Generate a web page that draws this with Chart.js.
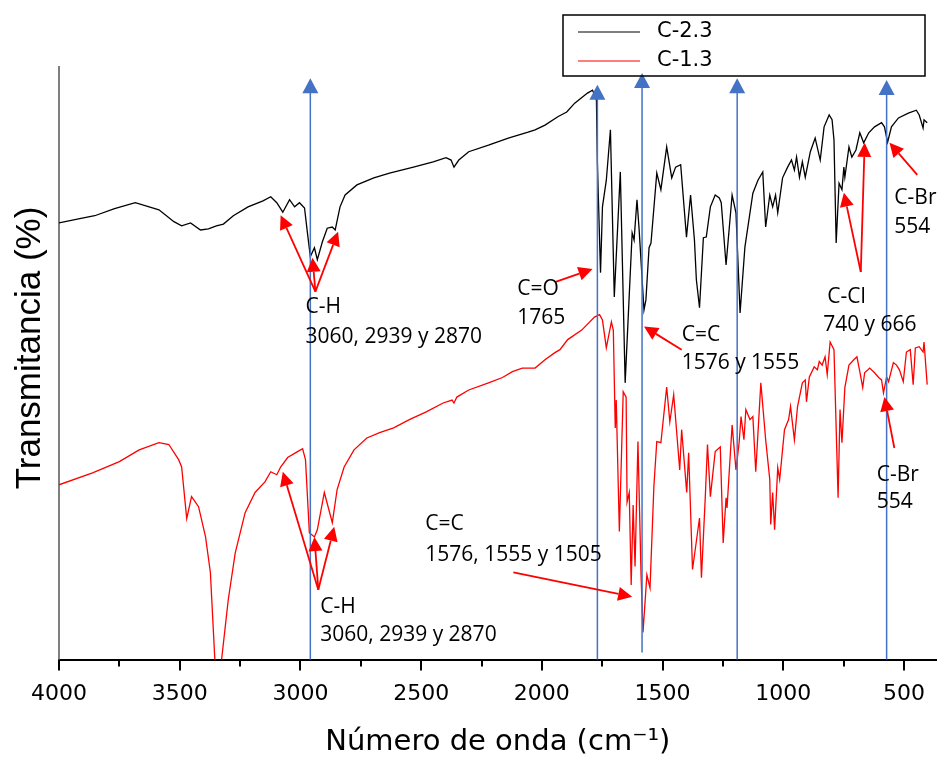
<!DOCTYPE html>
<html lang="es">
  <head>
    <meta charset="utf-8" />
    <title>FTIR C-2.3 / C-1.3</title>
    <style>
      body { margin: 0; background: #fff; }
      #wrap { width: 946px; height: 757px; }
    </style>
  </head>
  <body>
    <div id="wrap">
      <canvas id="canvas"></canvas>
    </div>

    <script src="https://cdn.jsdelivr.net/npm/chart.js"></script>

    <script>
      // spectra (wavenumber cm-1, transmittance in arbitrary %)
      const seriesNames = ["C-2.3", "C-1.3"];

      const waveC23 = [4000,3914,3852,3770,3684,3586,3524,3492,3455,3414,3381,3348,3319,3278,3217,3155,3123,3098,3073,3045,3024,3004,2983,2971,2959,2942,2930,2909,2889,2868,2856,2836,2815,2766,2696,2631,2532,2450,2397,2376,2364,2344,2303,2221,2139,2057,2028,1987,1934,1897,1864,1811,1790,1774,1770,1757,1749,1733,1716,1700,1675,1655,1626,1618,1606,1597,1577,1569,1556,1548,1524,1507,1483,1462,1446,1425,1401,1384,1368,1360,1347,1331,1319,1302,1282,1265,1257,1237,1212,1196,1179,1159,1126,1105,1085,1073,1056,1044,1032,1023,1003,982,966,954,945,933,921,909,888,868,847,831,810,798,790,781,769,757,749,745,728,716,699,683,667,646,622,593,581,568,552,523,482,449,437,421,417,404];
      const transC23 = [73.7,74.4,74.9,76.1,77.1,75.9,73.9,73.2,73.7,72.5,72.7,73.2,73.5,74.9,76.4,77.4,78.1,77.1,75.5,77.6,76.4,77.1,76.2,72.0,68.0,69.5,67.5,70.5,72.8,73.0,72.5,76.4,78.4,80.1,81.3,82.1,83.1,84.0,84.7,84.3,83.1,84.3,85.7,86.8,88.0,89.0,89.4,90.2,91.6,92.4,93.9,95.6,96.1,94.4,83.8,65.3,76.4,80.9,89.4,61.2,82.3,46.7,72.0,70.8,77.6,72.5,59.0,60.7,69.5,70.3,82.1,79.3,86.5,81.3,83.1,83.5,71.3,78.4,70.8,64.1,59.4,71.2,71.3,76.4,78.4,77.9,77.1,66.6,78.4,75.4,58.5,69.6,78.7,80.9,82.3,73.0,78.4,76.4,78.4,75.4,81.3,83.1,84.3,82.6,84.8,81.4,84.0,81.4,85.7,88.0,84.3,89.9,91.9,91.1,87.7,70.3,80.4,79.3,83.1,81.4,86.5,84.8,86.0,88.9,87.2,88.9,89.9,90.6,89.9,87.3,89.9,91.4,92.2,92.7,91.9,89.7,91.1,90.6];

      const waveC13 = [4000,3861,3750,3668,3586,3545,3504,3492,3471,3451,3422,3393,3373,3352,3332,3299,3270,3229,3188,3147,3123,3098,3082,3053,3012,2991,2979,2963,2942,2930,2901,2868,2848,2819,2778,2725,2672,2614,2549,2479,2409,2372,2364,2352,2303,2221,2163,2122,2081,2028,1987,1946,1925,1893,1835,1782,1761,1749,1733,1712,1704,1696,1692,1679,1663,1651,1647,1638,1630,1622,1614,1602,1589,1581,1565,1552,1536,1524,1507,1483,1470,1454,1429,1421,1400,1392,1376,1347,1339,1323,1314,1302,1282,1261,1249,1237,1233,1212,1196,1183,1175,1163,1155,1138,1126,1114,1093,1073,1056,1052,1044,1036,1023,1015,995,978,970,954,941,921,909,904,892,872,859,851,839,827,818,806,790,773,765,757,745,728,708,695,683,671,663,642,622,605,593,585,572,564,544,531,519,503,490,474,462,453,437,421,417,404];
      const transC13 = [29.5,31.5,33.4,35.4,36.6,36.3,33.7,32.5,23.8,27.5,25.8,20.7,14.7,-2,-2,10.1,18.0,24.8,28.2,30.0,31.7,31.2,32.5,34.1,35.1,35.6,33.7,21.4,20.7,21.9,28.2,23.1,28.7,32.5,35.4,37.4,38.3,39.1,40.5,41.8,43.3,43.8,43.3,44.3,45.5,46.7,47.6,48.6,49.2,49.2,50.6,51.8,52.3,54.0,55.6,57.8,58.2,57.3,52.6,57.0,55.6,39.1,43.8,21.6,45.2,44.3,26.6,28.2,12.6,26.1,15.7,36.8,14.0,4.6,14.3,12.1,29.2,36.8,36.6,46.0,40.1,44.7,32.0,38.8,28.2,34.9,15.2,23.9,13.8,27.5,36.3,27.5,35.1,35.9,19.7,27.3,25.6,39.6,32.0,36.6,41.0,37.1,42.2,40.5,41.0,31.7,46.7,37.1,30.4,22.8,28.2,21.9,32.4,30.4,38.8,40.5,42.7,37.1,42.7,46.7,47.2,43.5,47.7,49.4,48.9,50.3,49.7,51.1,48.1,53.6,52.3,27.3,42.2,36.6,45.9,49.7,50.6,51.1,48.6,45.9,48.4,49.2,48.4,47.6,47.2,45.0,47.7,46.9,50.1,49.7,48.9,46.9,51.9,52.3,46.4,52.6,52.8,51.9,53.6,46.4];

      // band markers (cm-1) with the top / bottom of each blue line
      const bandWaves = [2959, 1770, 1585, 1191, 572];
      const bandTops = [98.1, 97.0, 99.0, 98.1, 97.8];
      const bandBottoms = [0, 0, 1.2, 0, 0];

      // red arrows: [from wave, from value, to wave, to value]
      const arrows = [
        [2938, 62.1, 3082, 75.0], [2938, 62.1, 2950, 67.8], [2938, 62.1, 2844, 72.2],
        [1946, 63.7, 1790, 65.9],
        [1421, 52.3, 1577, 56.2],
        [679, 65.4, 749, 78.8], [679, 65.4, 663, 87.2],
        [445, 81.8, 560, 87.2],
        [2926, 11.8, 3073, 31.7], [2926, 11.8, 2942, 20.7], [2926, 11.8, 2860, 22.4],
        [2118, 14.7, 1626, 10.6],
        [540, 35.7, 581, 44.3],
      ];

      // notes: [wave, value, text]
      const notes = [
        [2979, 59.5, "C-H"], [2979, 54.5, "3060, 2939 y 2870"],
        [2102, 62.6, "C=O"], [2102, 57.7, "1765"],
        [1421, 54.8, "C=C"], [1421, 50.1, "1576 y 1555"],
        [818, 61.2, "C-Cl"], [835, 56.5, "740 y 666"],
        [540, 77.9, "C-Br"], [540, 73.0, "554"],
        [2918, 8.9, "C-H"], [2918, 4.2, "3060, 2939 y 2870"],
        [2483, 22.8, "C=C"], [2483, 17.7, "1576, 1555 y 1505"],
        [613, 31.2, "C-Br"], [613, 26.6, "554"],
      ];

      const tickStep = 250;

      function head(ctx, x1, y1, x2, y2, len, half) {
        const a = Math.atan2(y2 - y1, x2 - x1);
        const bx = x2 - len * Math.cos(a);
        const by = y2 - len * Math.sin(a);
        ctx.beginPath();
        ctx.moveTo(x2, y2);
        ctx.lineTo(bx + half * Math.sin(a), by - half * Math.cos(a));
        ctx.lineTo(bx - half * Math.sin(a), by + half * Math.cos(a));
        ctx.closePath();
        ctx.fill();
        return [bx, by];
      }

      const marks = {
        id: "marks",
        afterDatasetsDraw(chart) {
          const { ctx, scales: { x, y } } = chart;
          ctx.save();

          // blue band lines
          ctx.strokeStyle = "#4472C4";
          ctx.fillStyle = "#4472C4";
          ctx.lineWidth = 1.5;
          bandWaves.forEach((w, i) => {
            const px = x.getPixelForValue(w);
            const top = y.getPixelForValue(bandTops[i]);
            const bot = y.getPixelForValue(bandBottoms[i]);
            ctx.beginPath();
            ctx.moveTo(px, bot);
            ctx.lineTo(px, top + 10);
            ctx.stroke();
            head(ctx, px, bot, px, top, 15, 8);
          });

          // red arrows
          ctx.strokeStyle = "#FF0000";
          ctx.fillStyle = "#FF0000";
          ctx.lineWidth = 1.8;
          arrows.forEach(([w1, v1, w2, v2]) => {
            const x1 = x.getPixelForValue(w1), y1 = y.getPixelForValue(v1);
            const x2 = x.getPixelForValue(w2), y2 = y.getPixelForValue(v2);
            const [bx, by] = head(ctx, x1, y1, x2, y2, 14, 7);
            ctx.beginPath();
            ctx.moveTo(x1, y1);
            ctx.lineTo(bx, by);
            ctx.stroke();
          });

          // notes
          ctx.fillStyle = "#000";
          ctx.font = '21px "Open Sans"';
          ctx.textAlign = "left";
          ctx.textBaseline = "middle";
          notes.forEach(([w, v, t]) => {
            ctx.fillText(t, x.getPixelForValue(w), y.getPixelForValue(v));
          });
          ctx.restore();
        },
        afterDraw(chart) {
          const { ctx, chartArea, scales: { x } } = chart;
          ctx.save();

          // tick marks, long at labelled values
          ctx.strokeStyle = "#000";
          ctx.lineWidth = 2;
          for (let v = 500; v <= 4000; v += tickStep) {
            const px = Math.round(x.getPixelForValue(v));
            const len = v % 500 === 0 ? 11 : 7;
            ctx.beginPath();
            ctx.moveTo(px, chartArea.bottom);
            ctx.lineTo(px, chartArea.bottom + len);
            ctx.stroke();
          }

          // y title
          ctx.fillStyle = "#000";
          ctx.font = '35px "Liberation Sans"';
          ctx.textAlign = "center";
          ctx.textBaseline = "middle";
          ctx.translate(30, 348);
          ctx.rotate(-Math.PI / 2);
          ctx.fillText("Transmitancia (%)", 0, 0);
          ctx.restore();

          // legend box
          ctx.save();
          ctx.strokeStyle = "#000";
          ctx.lineWidth = 1.5;
          ctx.strokeRect(563, 15, 362, 61);
          const colors = ["#000000", "#FF0000"];
          const rows = [32, 61];
          ctx.font = '21px "DejaVu Sans"';
          ctx.textBaseline = "middle";
          ctx.textAlign = "left";
          seriesNames.forEach((name, i) => {
            ctx.strokeStyle = colors[i];
            ctx.lineWidth = 1.2;
            ctx.beginPath();
            ctx.moveTo(578, rows[i]);
            ctx.lineTo(640, rows[i]);
            ctx.stroke();
            ctx.fillStyle = "#000";
            ctx.fillText(name, 657, rows[i]);
          });
          ctx.restore();
        },
      };

      const ctx = document.getElementById("canvas");

      new Chart(ctx, {
        type: "line",
        data: {
          datasets: [
            {
              label: seriesNames[0],
              data: waveC23.map((w, i) => ({ x: w, y: transC23[i] })),
              borderColor: "#000000",
              borderWidth: 1.3,
              pointRadius: 0,
              tension: 0,
            },
            {
              label: seriesNames[1],
              data: waveC13.map((w, i) => ({ x: w, y: transC13[i] })),
              borderColor: "#FF0000",
              borderWidth: 1.3,
              pointRadius: 0,
              tension: 0,
            },
          ],
        },
        options: {
          responsive: true,
          maintainAspectRatio: false,
          animation: false,
          devicePixelRatio: 1,
          layout: { padding: { left: 59, top: 67, right: 0, bottom: 0 } },
          plugins: { legend: { display: false }, tooltip: { enabled: false } },
          scales: {
            x: {
              type: "linear",
              reverse: true,
              min: 365,
              max: 4000,
              grid: { display: false, drawTicks: false },
              border: { display: true, color: "#000", width: 2 },
              ticks: {
                stepSize: tickStep,
                includeBounds: false,
                autoSkip: false,
                maxRotation: 0,
                padding: 21,
                color: "#000",
                font: { family: "DejaVu Sans", size: 22 },
                callback: (v) => (v % 500 === 0 ? String(v) : ""),
              },
              title: {
                display: true,
                text: "Número de onda (cm⁻¹)",
                color: "#000",
                font: { family: "DejaVu Sans", size: 29, lineHeight: 1 },
                padding: { top: 0, bottom: 0 },
              },
            },
            y: {
              min: 0,
              max: 100,
              grid: { display: false, drawTicks: false },
              border: { display: true, color: "#7F7F7F", width: 2 },
              ticks: { display: false },
            },
          },
        },
        plugins: [marks],
      });
    </script>
  </body>
</html>
